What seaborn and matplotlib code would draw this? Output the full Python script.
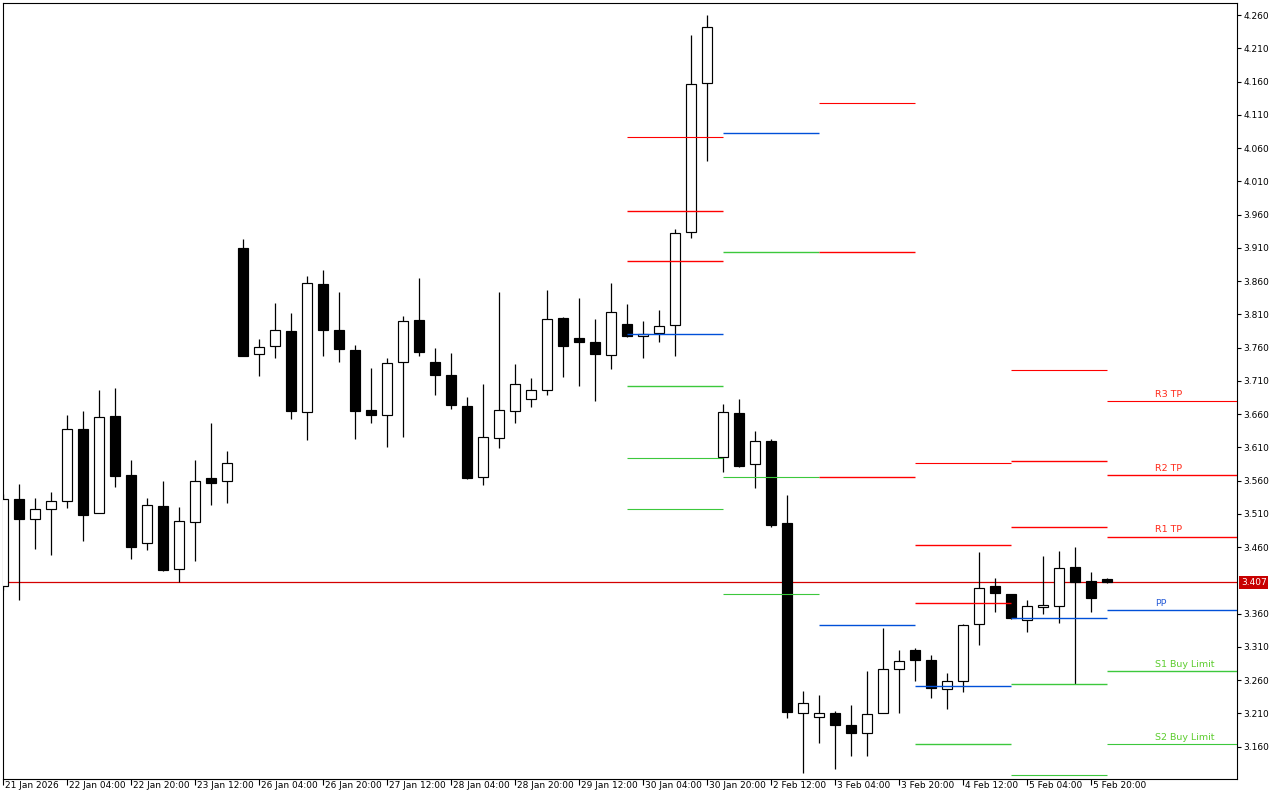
import numpy as np
import pandas as pd
import matplotlib
matplotlib.use('Agg')
import matplotlib.pyplot as plt
import matplotlib.transforms as mtransforms
import seaborn as sns

nan = np.nan

# 4h candles
opens = [3.401, 3.532, 3.502, 3.518, 3.529, 3.637, 3.512, 3.657, 3.568, 3.466,
         3.522, 3.427, 3.498, 3.564, 3.559, 3.910, 3.750, 3.762, 3.785, 3.663,
         3.856, 3.786, 3.756, 3.666, 3.658, 3.738, 3.801, 3.738, 3.719, 3.672,
         3.566, 3.624, 3.664, 3.682, 3.697, 3.805, 3.775, 3.769, 3.749, 3.796,
         3.777, 3.782, 3.794, 3.934, 4.158, 3.595, 3.661, 3.585, 3.620, 3.496,
         3.211, 3.205, 3.211, 3.192, 3.180, 3.211, 3.277, 3.305, 3.291, 3.247,
         3.259, 3.345, 3.401, 3.389, 3.351, 3.370, 3.371, 3.430, 3.409, 3.412]
highs = [3.540, 3.555, 3.534, 3.543, 3.659, 3.664, 3.696, 3.699, 3.591, 3.534,
         3.559, 3.520, 3.591, 3.647, 3.604, 3.924, 3.773, 3.827, 3.812, 3.868,
         3.877, 3.844, 3.764, 3.730, 3.745, 3.808, 3.864, 3.760, 3.752, 3.686,
         3.705, 3.843, 3.736, 3.714, 3.846, 3.806, 3.835, 3.803, 3.857, 3.826,
         3.800, 3.816, 3.939, 4.230, 4.260, 3.675, 3.683, 3.634, 3.622, 3.538,
         3.244, 3.238, 3.213, 3.223, 3.274, 3.339, 3.306, 3.308, 3.298, 3.271,
         3.345, 3.452, 3.413, 3.390, 3.381, 3.446, 3.454, 3.460, 3.422, 3.413]
lows = [3.395, 3.380, 3.457, 3.448, 3.519, 3.469, 3.511, 3.551, 3.442, 3.456,
        3.424, 3.407, 3.439, 3.524, 3.527, 3.747, 3.718, 3.745, 3.653, 3.621,
        3.747, 3.739, 3.623, 3.647, 3.611, 3.626, 3.747, 3.689, 3.668, 3.563,
        3.553, 3.609, 3.647, 3.670, 3.689, 3.716, 3.703, 3.680, 3.728, 3.776,
        3.744, 3.768, 3.748, 3.925, 4.040, 3.573, 3.581, 3.549, 3.490, 3.203,
        3.120, 3.166, 3.126, 3.146, 3.146, 3.210, 3.210, 3.259, 3.234, 3.217,
        3.243, 3.313, 3.362, 3.352, 3.332, 3.359, 3.346, 3.255, 3.362, 3.406]
closes = [3.532, 3.502, 3.517, 3.530, 3.637, 3.508, 3.655, 3.567, 3.460, 3.523,
          3.425, 3.500, 3.560, 3.557, 3.587, 3.748, 3.761, 3.786, 3.664, 3.857,
          3.787, 3.758, 3.664, 3.658, 3.737, 3.800, 3.753, 3.719, 3.673, 3.564,
          3.625, 3.666, 3.705, 3.697, 3.803, 3.763, 3.769, 3.750, 3.814, 3.777,
          3.780, 3.792, 3.932, 4.157, 4.242, 3.663, 3.582, 3.619, 3.494, 3.212,
          3.226, 3.211, 3.193, 3.180, 3.209, 3.277, 3.289, 3.291, 3.249, 3.259,
          3.343, 3.399, 3.391, 3.353, 3.372, 3.373, 3.429, 3.408, 3.383, 3.407]

last_price = 3.407

# daily pivot segments (start bar of each day)
day_start = [39, 45, 51, 57, 63, 69]
r3 = [4.076, nan, 4.127, 3.587, 3.726, 3.679]
r2 = [3.966, nan, 3.904, 3.464, 3.589, 3.569]
r1 = [3.890, nan, 3.565, 3.376, 3.491, 3.476]
pp = [3.780, 4.082, 3.343, 3.251, 3.354, 3.366]
s1 = [3.703, 3.904, nan, 3.164, 3.254, 3.274]
s2 = [3.594, 3.566, nan, nan, 3.118, 3.164]
s3 = [3.518, 3.389, nan, nan, nan, nan]

# colour of each level per day (as drawn)
r_cols = ['red', 'red', 'red', 'red', 'red', 'red']
s_cols = ['green', 'green', 'green', 'green', 'green', 'green']

level_labels = ['R3 TP', 'R2 TP', 'R1 TP', 'PP', 'S1 Buy Limit', 'S2 Buy Limit']

xtick_bars = list(range(0, 72, 4))
xtick_labels = ['21 Jan 2026', '22 Jan 04:00', '22 Jan 20:00', '23 Jan 12:00',
                '26 Jan 04:00', '26 Jan 20:00', '27 Jan 12:00', '28 Jan 04:00',
                '28 Jan 20:00', '29 Jan 12:00', '30 Jan 04:00', '30 Jan 20:00',
                '2 Feb 12:00', '3 Feb 04:00', '3 Feb 20:00', '4 Feb 12:00',
                '5 Feb 04:00', '5 Feb 20:00']

ytick_vals = [4.260, 4.210, 4.160, 4.110, 4.060, 4.010, 3.960, 3.910, 3.860,
              3.810, 3.760, 3.710, 3.660, 3.610, 3.560, 3.510, 3.460, 3.360,
              3.310, 3.260, 3.210, 3.160]

RED = '#ff0000'
BLUE = '#0050d8'
GREEN = '#3cc83c'

sns.set_theme(style='white')
plt.rcParams['font.family'] = ['DejaVu Sans']
plt.rcParams['axes.edgecolor'] = 'black'
plt.rcParams['axes.linewidth'] = 0.8

df = pd.DataFrame({'open': opens, 'high': highs, 'low': lows, 'close': closes})
df['bar'] = np.arange(len(df))
df['up'] = df['close'] >= df['open']

fig = plt.figure(figsize=(12.8, 8), dpi=100)
# plot frame: x 2.7..1237 px, y 2.5..779 px
ax = fig.add_axes([2.7 / 1280, 21 / 800, 1234.3 / 1280, 776.5 / 800])
x0 = -0.02
ax.set_xlim(x0, x0 + 1234.3 / 16)
ax.set_ylim(3.1115, 4.2788)

#current price line (behind the candles)
ax.axhline(last_price, color='#d40000', lw=0.9, zorder=1)

#wicks and bodies
ax.vlines(df['bar'], df['low'], df['high'], color='black', lw=0.9, zorder=2)
body_lo = df[['open', 'close']].min(axis=1)
body_h = (df['close'] - df['open']).abs()
ax.bar(df['bar'], body_h, bottom=body_lo, width=0.66,
       color=np.where(df['up'], 'white', 'black'), edgecolor='black',
       linewidth=0.85, zorder=3)

#pivot segments
x_right = ax.get_xlim()[1]
ends = day_start[1:] + [x_right]
for k, (a, b) in enumerate(zip(day_start, ends)):
    for vals, col, lw in [(r3, RED, 0.8), (r2, RED, 1.0), (r1, RED, 1.0),
                          (pp, BLUE, 1.0), (s1, GREEN, 1.0), (s2, GREEN, 0.8),
                          (s3, GREEN, 0.8)]:
        if not np.isnan(vals[k]):
            ax.hlines(vals[k], a, b, color=col, lw=lw, zorder=4)

#labels on the current day
lab_x = 72
for name, val, col in zip(level_labels,
                          [r3[-1], r2[-1], r1[-1], pp[-1], s1[-1], s2[-1]],
                          ['#ff2a1a', '#ff2a1a', '#ff2a1a', '#2a5ed8', '#5ccc2e', '#5ccc2e']):
    ax.annotate(name, (lab_x, val), xytext=(0, 1.5), textcoords='offset points',
                ha='left', va='bottom', fontsize=6.8, color=col, zorder=5)

#axes ticks
ax.yaxis.tick_right()
ax.set_yticks(ytick_vals)
ax.set_yticklabels(['{:.3f}'.format(v) for v in ytick_vals])
ax.set_xticks(xtick_bars)
ax.set_xticklabels(xtick_labels)
ax.tick_params(axis='y', direction='out', length=3, width=0.8, pad=1.5,
               labelsize=6.5, colors='black', right=True, left=False)
ax.tick_params(axis='x', direction='out', length=4.5, width=0.8, pad=-3.2,
               labelsize=6.5, colors='black', bottom=True)
shift = mtransforms.ScaledTranslation(1.5 / 100, 0, fig.dpi_scale_trans)
for lab in ax.get_xticklabels():
    lab.set_ha('left')
    lab.set_transform(lab.get_transform() + shift)
ax.grid(False)
for s in ax.spines.values():
    s.set_visible(True)
    s.set_color('black')

#price box on the axis
trans = mtransforms.blended_transform_factory(ax.transAxes, ax.transData)
ax.text(1.0 + 4 / 1234.3, last_price, '{:.3f}'.format(last_price), transform=trans,
        ha='left', va='center', fontsize=6.5, color='white', zorder=6,
        bbox=dict(boxstyle='square,pad=0.18', fc='#c80000', ec='none'))

plt.savefig('out.png', dpi=100)
